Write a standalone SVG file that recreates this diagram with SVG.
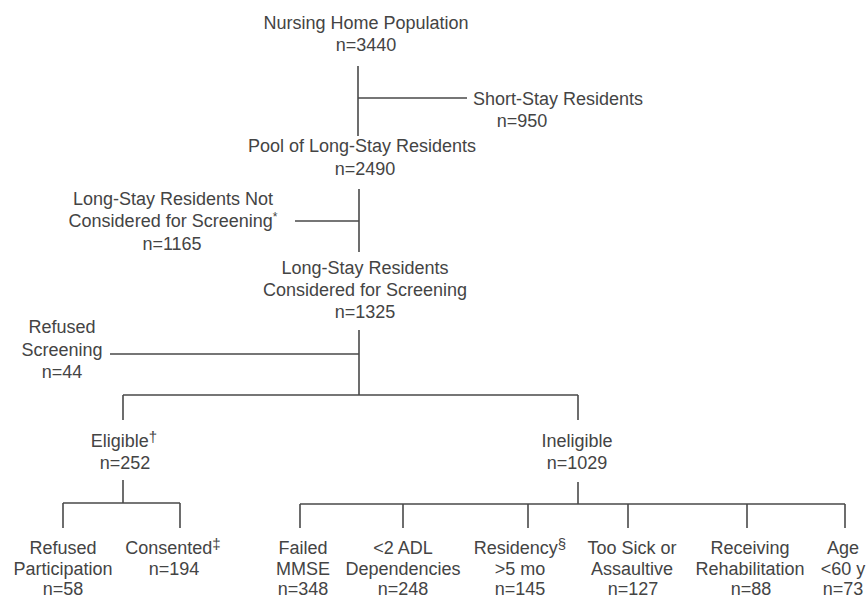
<svg xmlns="http://www.w3.org/2000/svg" width="868" height="600" viewBox="0 0 868 600">
<style>
text{font-family:"Liberation Sans",Arial,sans-serif;font-size:18px;fill:#444}
.m{text-anchor:middle}
.sup{font-size:15px}
.ast{font-size:12px}
.c{stroke:#4a4a4a;stroke-width:1.6;fill:none}
</style>
<rect width="868" height="600" fill="#fff"/>
<g id="connectors" class="c">
<path d="M358 66V136M358 98H467"/>
<path d="M359 189V252M295 221H359"/>
<path d="M359 330V395M110 354H359"/>
<path d="M123 395H578M123 395V420M578 395V420"/>
<path d="M123 480V503M63 503H180M63 503V528M180 503V528"/>
<path d="M578 482V504M300 504H845M300 504V528M403 504V528M528 504V528M628 504V528M747 504V528M845 504V528"/>
</g>
<g id="n_nursing"><text class="m" x="366" y="29">Nursing Home Population</text><text class="m" x="366" y="51">n=3440</text></g>
<g id="n_short"><text x="473" y="105">Short-Stay Residents</text><text class="m" x="522" y="127">n=950</text></g>
<g id="n_pool"><text class="m" x="362" y="152">Pool of Long-Stay Residents</text><text class="m" x="365" y="175">n=2490</text></g>
<g id="n_notconsidered"><text class="m" x="173" y="205">Long-Stay Residents Not</text><text class="m" x="173" y="227">Considered for Screening<tspan class="ast" dy="-6">*</tspan></text><text class="m" x="172" y="250">n=1165</text></g>
<g id="n_considered"><text class="m" x="365" y="274">Long-Stay Residents</text><text class="m" x="365" y="296">Considered for Screening</text><text class="m" x="365" y="318">n=1325</text></g>
<g id="n_refusedscreen"><text class="m" x="62" y="333">Refused</text><text class="m" x="62" y="356">Screening</text><text class="m" x="62" y="378">n=44</text></g>
<g id="n_eligible"><text class="m" x="124" y="447">Eligible<tspan class="sup" dy="-5">†</tspan></text><text class="m" x="125" y="469">n=252</text></g>
<g id="n_ineligible"><text class="m" x="577" y="447">Ineligible</text><text class="m" x="577" y="469">n=1029</text></g>
<g id="n_refusedpart"><text class="m" x="63" y="554">Refused</text><text class="m" x="63" y="575">Participation</text><text class="m" x="63" y="595">n=58</text></g>
<g id="n_consented"><text class="m" x="173" y="554">Consented<tspan class="sup" dy="-5">‡</tspan></text><text class="m" x="174" y="575">n=194</text></g>
<g id="n_mmse"><text class="m" x="303" y="554">Failed</text><text class="m" x="303" y="575">MMSE</text><text class="m" x="303" y="595">n=348</text></g>
<g id="n_adl"><text class="m" x="403" y="554">&lt;2 ADL</text><text class="m" x="403" y="575">Dependencies</text><text class="m" x="403" y="595">n=248</text></g>
<g id="n_residency"><text class="m" x="520" y="554">Residency<tspan class="sup" dy="-5">§</tspan></text><text class="m" x="520" y="575">&gt;5 mo</text><text class="m" x="520" y="595">n=145</text></g>
<g id="n_sick"><text class="m" x="632" y="554">Too Sick or</text><text class="m" x="632" y="575">Assaultive</text><text class="m" x="633" y="595">n=127</text></g>
<g id="n_rehab"><text class="m" x="750" y="554">Receiving</text><text class="m" x="750" y="575">Rehabilitation</text><text class="m" x="751" y="595">n=88</text></g>
<g id="n_age"><text class="m" x="843" y="554">Age</text><text class="m" x="843" y="575">&lt;60 y</text><text class="m" x="843" y="595">n=73</text></g>
</svg>
